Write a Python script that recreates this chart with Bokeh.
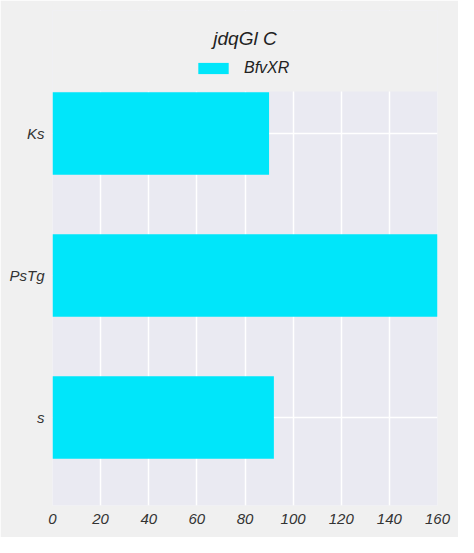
from bokeh.plotting import figure
from bokeh.models import Range1d, FixedTicker, Legend, LegendItem, ColumnDataSource, Label, BoxAnnotation
from bokeh.embed import file_html
from bokeh.resources import INLINE

title_text = "jdqGl C"
series_name = "BfvXR"
categories = ["s", "PsTg", "Ks"]
values = [92, 160, 90]
positions = [0, 1, 2]
x_ticks = [0, 20, 40, 60, 80, 100, 120, 140, 160]

src = ColumnDataSource(dict(y=positions, right=values, cat=categories))

plot_h = 414
header = 81
y0, y1 = -0.62, 2.296
ppu = plot_h / (y1 - y0)
y_top = y1 + header / ppu

p = figure(frame_width=385, frame_height=plot_h + header, output_backend="svg", toolbar_location=None,
           x_range=Range1d(0, 160), y_range=Range1d(y0, y_top), title=None,
           min_border_left=52, min_border_right=21, min_border_top=10, min_border_bottom=32)

p.background_fill_color = "#eaeaf2"
p.border_fill_color = "#f0f0f0"
p.outline_line_color = None

r = p.hbar(y="y", right="right", left=0, height=0.58, source=src,
           fill_color="#00e6fa", line_color=None)

# header area above the plotting region, same colour as the page
p.add_layout(BoxAnnotation(bottom=y1, fill_color="#f0f0f0", fill_alpha=1.0, line_color=None))

title = Label(x=80, y=y1 + 53 / ppu, text=title_text, text_align="center",
              text_baseline="middle", text_font="Liberation Sans", text_font_style="italic",
              text_font_size="19px", text_color="#222222")
p.add_layout(title)

legend = Legend(items=[LegendItem(label=series_name, renderers=[r])], orientation="horizontal",
                location=(142, plot_h + 14))
legend.label_text_font = "Liberation Sans"
legend.label_text_font_style = "italic"
legend.label_text_font_size = "16px"
legend.label_text_color = "#222222"
legend.glyph_width = 38
legend.glyph_height = 14
legend.background_fill_alpha = 0
legend.border_line_color = None
legend.padding = 0
legend.margin = 0
legend.label_standoff = 12
p.add_layout(legend)

for ax in (p.xaxis[0], p.yaxis[0]):
    ax.axis_line_color = None
    ax.major_tick_line_color = None
    ax.minor_tick_line_color = None
    ax.major_label_text_font = "Liberation Sans"
    ax.major_label_text_font_style = "italic"
    ax.major_label_text_font_size = "15px"
    ax.major_label_text_color = "#333333"

p.xaxis.ticker = FixedTicker(ticks=x_ticks)
p.xaxis.major_label_standoff = 2
p.yaxis.ticker = FixedTicker(ticks=positions)
p.yaxis.major_label_overrides = {pos: c for pos, c in zip(positions, categories)}
p.yaxis.major_label_standoff = 2

p.xgrid.grid_line_color = "white"
p.xgrid.grid_line_width = 1.5
p.ygrid.grid_line_color = "white"
p.ygrid.grid_line_width = 1.5

open("out.html", "w").write(file_html(p, INLINE))
